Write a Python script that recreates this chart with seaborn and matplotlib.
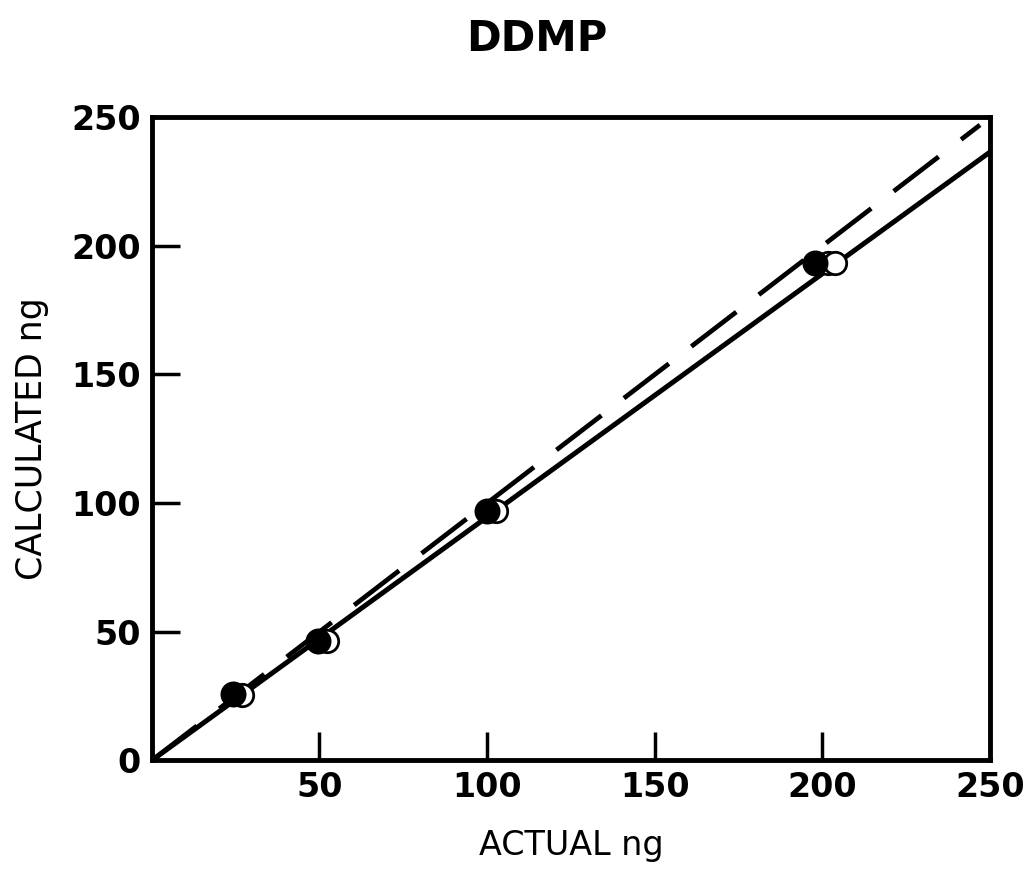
import numpy as np
import pandas as pd
import matplotlib
matplotlib.use("Agg")
import matplotlib.pyplot as plt
import seaborn as sns

# replicate determinations (first one drawn filled, the rest as open rings)
filled_actual = [24.2, 49.5, 100.0, 197.8]
filled_calc = [25.7, 46.3, 96.8, 193.2]
open_actual = [27.0, 52.3, 102.6, 201.6, 203.6]
open_calc = [25.5, 46.5, 97.0, 193.3, 193.3]

# regression line (solid) and line of identity (dashed)
fit_x = [0, 250]
fit_y = [0, 236.5]
ident_x = [0, 247]
ident_y = [0, 247]

ticks = [0, 50, 100, 150, 200, 250]

sns.set_style("white")
plt.rcParams["font.family"] = ["DejaVu Sans"]
plt.rcParams["text.color"] = "black"
plt.rcParams["axes.labelcolor"] = "black"
plt.rcParams["xtick.color"] = "black"
plt.rcParams["ytick.color"] = "black"

fig = plt.figure(figsize=(10.26, 8.75), dpi=100)
ax = fig.add_axes([0.148, 0.131, 0.817, 0.735])

sns.lineplot(x=fit_x, y=fit_y, ax=ax, color="black", linewidth=3.6)
sns.lineplot(x=ident_x, y=ident_y, ax=ax, color="black", linewidth=3.4)
ax.lines[-1].set_dashes([12, 6])

sns.scatterplot(x=open_actual, y=open_calc, ax=ax, s=260, facecolor="white",
                edgecolor="black", linewidth=2.0, zorder=3)
sns.scatterplot(x=filled_actual, y=filled_calc, ax=ax, s=300, color="black",
                edgecolor="black", zorder=4)

ax.set_xlim(0, 250)
ax.set_ylim(0, 250)
ax.set_xticks(ticks)
ax.set_yticks(ticks)
ax.set_xticklabels([""] + [str(t) for t in ticks[1:]])
ax.set_yticklabels([str(t) for t in ticks])
ax.tick_params(bottom=True, left=True, direction="in", length=20, width=2.5,
               color="black", labelcolor="black", labelsize=24, pad=8)
for lab in ax.get_xticklabels() + ax.get_yticklabels():
    lab.set_fontweight("bold")
# no tick marks at the corners
for t in (ax.xaxis.get_major_ticks()[0], ax.xaxis.get_major_ticks()[-1],
          ax.yaxis.get_major_ticks()[0], ax.yaxis.get_major_ticks()[-1]):
    t.tick1line.set_visible(False)

for sp in ax.spines.values():
    sp.set_linewidth(3.5)
    sp.set_color("black")

ax.set_xlabel("ACTUAL ng", fontsize=24, labelpad=18, color="black")
ax.set_ylabel("CALCULATED ng", fontsize=25, labelpad=16, color="black")
fig.text(0.523, 0.955, "DDMP", ha="center", va="center", fontsize=30,
         fontweight="heavy", color="black")

fig.savefig("out.png", dpi=100)
